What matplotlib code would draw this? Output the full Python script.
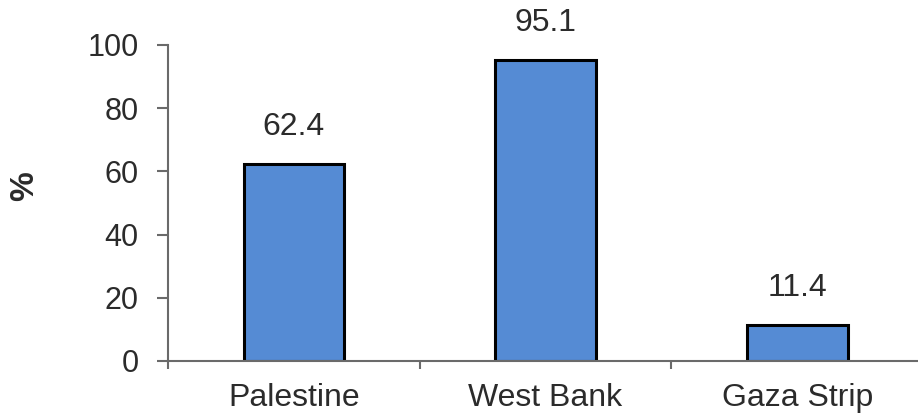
import matplotlib
matplotlib.use("Agg")
import matplotlib.pyplot as plt

# data
regions = ["Palestine", "West Bank", "Gaza Strip"]
values = [62.4, 95.1, 11.4]
y_ticks = [0, 20, 40, 60, 80, 100]

plt.rcParams['font.family'] = ['Liberation Sans', 'DejaVu Sans']

bar_color = '#558BD4'
axis_color = '#6a6a6a'
text_color = '#2b2b2b'

fig = plt.figure(figsize=(9.18, 4.16), dpi=100)
ax = fig.add_axes([168 / 918, 55 / 416, 1 - 168 / 918, 316 / 416])

x = list(range(len(regions)))
bars = ax.bar(x, values, width=0.4, color=bar_color, edgecolor='black', linewidth=2.2)

for xi, v in zip(x, values):
    ax.annotate(f"{v}", (xi, v), xytext=(0, 16), textcoords='offset points',
                ha='center', va='bottom', fontsize=23, color=text_color)

ax.set_xlim(-0.5, 2.48)
ax.set_ylim(0, 100)
ax.set_yticks(y_ticks)
ax.tick_params(axis='y', labelsize=22, colors=axis_color, labelcolor=text_color,
               length=8, width=1.5, pad=13)

# category labels centred, ticks on the boundaries
ax.set_xticks(x)
ax.set_xticklabels(regions, fontsize=23, color=text_color)
ax.tick_params(axis='x', length=0, pad=16)
ax.set_xticks([-0.5, 0.5, 1.5], minor=True)
ax.tick_params(axis='x', which='minor', length=6, width=1.5, colors=axis_color)

for side in ['top', 'right']:
    ax.spines[side].set_visible(False)
for side in ['left', 'bottom']:
    ax.spines[side].set_color(axis_color)
    ax.spines[side].set_linewidth(1.5)

fig.text(25 / 918, 1 - 186 / 416, "%", rotation=90, fontsize=24, fontweight='bold',
         color=text_color, ha='center', va='center')

fig.savefig("out.png", dpi=100)
